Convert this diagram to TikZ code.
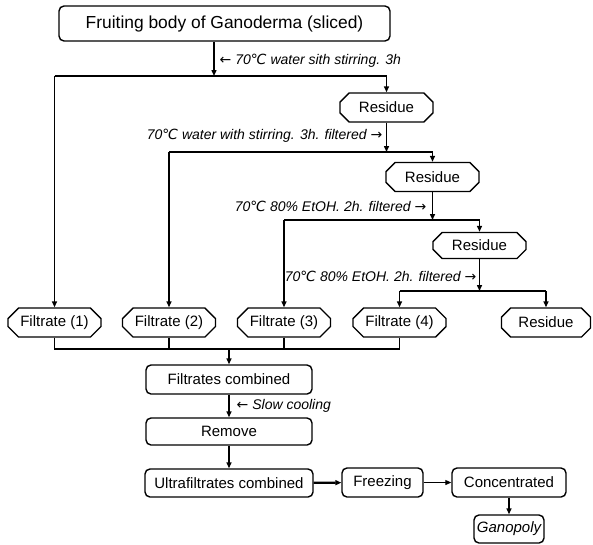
\documentclass[tikz,border=0pt]{standalone}
\usepackage{fontspec}
\setmainfont{Liberation Sans}
\newfontfamily\symfont{DejaVu Sans}
\usetikzlibrary{shapes.misc,arrows.meta}

\newcommand{\degc}{{\symfont ℃}}
\newcommand{\larr}{{\symfont ←}}
\newcommand{\rarr}{{\symfont →}}

\tikzstyle{stepbox} = [draw=black, rectangle, rounded corners=5pt,
    inner sep=0pt, font=\fontsize{15}{18}\selectfont]
\tikzstyle{cutbox} = [draw=black, chamfered rectangle,
    chamfered rectangle xsep=8pt, inner sep=0pt,
    minimum width=93pt, minimum height=29pt, font=\fontsize{15}{18}\selectfont]
\tikzstyle{note} = [inner sep=0pt, font=\fontsize{14}{16}\selectfont\itshape]
\tikzstyle{arr} = [-{Triangle[length=6pt,width=5pt]}]

\begin{document}
\begin{tikzpicture}[x=1pt, y=-1pt, line width=1.4pt]
\useasboundingbox (0,0) rectangle (593,544);

% extraction steps
\node[stepbox, minimum width=331pt, minimum height=35pt,
    font=\fontsize{17.4}{20}\selectfont] (body) at (224.5,23.5) {Fruiting body of Ganoderma (sliced)};
\node[cutbox] (res1) at (386.5,107.5) {Residue};
\node[cutbox] (res2) at (432.5,177) {Residue};
\node[cutbox, minimum height=26pt] (res3) at (479.5,245.5) {Residue};

\node[cutbox] (fil1) at (54.5,322.5) {Filtrate (1)};
\node[cutbox] (fil2) at (169,322.5) {Filtrate (2)};
\node[cutbox] (fil3) at (284,322.5) {Filtrate (3)};
\node[cutbox] (fil4) at (399.5,322.5) {Filtrate (4)};
\node[cutbox, minimum width=89pt] (res4) at (546,322.5) {Residue};

% work-up
\node[stepbox, minimum width=166pt, minimum height=29pt] (comb) at (229,379.5) {Filtrates combined};
\node[stepbox, minimum width=166pt, minimum height=27pt] (remove) at (229,431.5) {Remove};
\node[stepbox, minimum width=168pt, minimum height=28pt] (ultra) at (229,483) {Ultrafiltrates combined};
\node[stepbox, minimum width=81pt, minimum height=29pt] (freeze) at (382.5,482.5) {Freezing};
\node[stepbox, minimum width=114pt, minimum height=29pt] (conc) at (509,482.5) {Concentrated};
\node[stepbox, minimum width=70pt, minimum height=28pt,
    font=\fontsize{15}{18}\selectfont\itshape] (gano) at (509,529) {Ganopoly};

% conditions
\node[note, anchor=west] (lab1) at (219,61) {\larr\ 70\degc\ water sith stirring. 3h};
\node[note, anchor=east] (lab2) at (383,136) {70\degc\ water with stirring. 3h. filtered \rarr};
\node[note, anchor=east] (lab3) at (427,206) {70\degc\ 80\% EtOH. 2h. filtered \rarr};
\node[note, anchor=east] (lab4) at (477,276) {70\degc\ 80\% EtOH. 2h. filtered \rarr};
\node[note, anchor=west] (lab5) at (236,406) {\larr\ Slow cooling};

\coordinate (j1) at (214,76);
\coordinate (j2) at (386.5,152);
\coordinate (j3) at (432.5,220);
\coordinate (j4) at (479.5,291);
\coordinate (j5) at (229,349);

\draw[arr] (body.south -| j1) -- (j1);
\draw (fil1 |- j1) -- (res1 |- j1);
\draw[arr] (fil1 |- j1) -- (fil1.north);
\draw[arr] (res1 |- j1) -- (res1.north);

\draw[arr] (res1.south) -- (j2);
\draw (fil2 |- j2) -- (res2 |- j2);
\draw[arr] (fil2 |- j2) -- (fil2.north);
\draw[arr] (res2 |- j2) -- (res2.north);

\draw[arr] (res2.south) -- (j3);
\draw (fil3 |- j3) -- (res3 |- j3);
\draw[arr] (fil3 |- j3) -- (fil3.north);
\draw[arr] (res3 |- j3) -- (res3.north);

\draw[arr] (res3.south) -- (j4);
\draw (fil4 |- j4) -- (res4 |- j4);
\draw[arr] (fil4 |- j4) -- (fil4.north);
\draw[arr] (res4 |- j4) -- (res4.north);

\draw (fil1.south) -- (fil1 |- j5) -- (fil4 |- j5) -- (fil4.south);
\draw (fil2.south) -- (fil2 |- j5);
\draw (fil3.south) -- (fil3 |- j5);
\draw[arr] (j5) -- (comb.north);
\draw[arr] (comb) -- (remove);
\draw[arr] (remove) -- (ultra);
\draw[arr, line width=2.2pt] (ultra) -- (freeze);
\draw[arr, line width=0.9pt] (freeze) -- (conc);
\draw[arr] (conc) -- (gano);
\end{tikzpicture}
\end{document}
